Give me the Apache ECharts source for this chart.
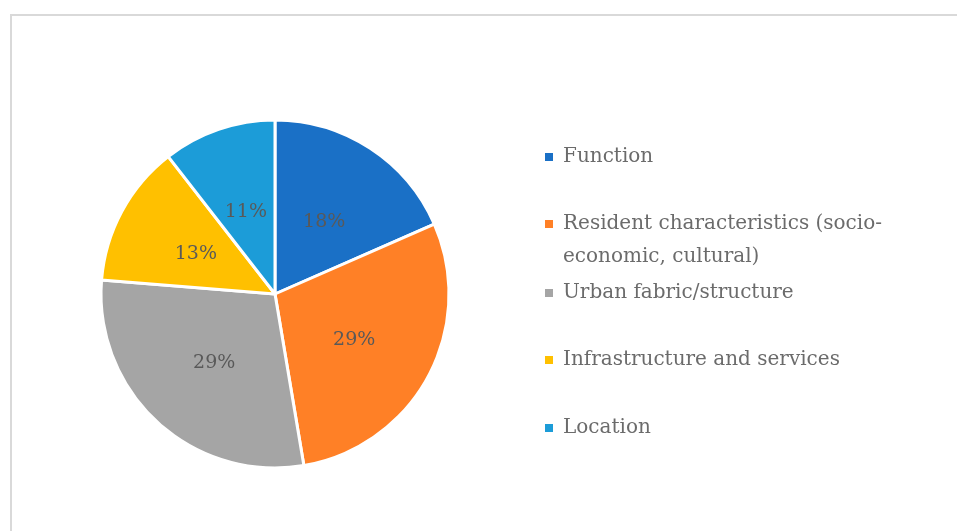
<!DOCTYPE html>
<html>
<head>
<meta charset="utf-8">
<script src="https://cdn.jsdelivr.net/npm/echarts@6/dist/echarts.min.js"></script>
<style>
  html, body { margin: 0; padding: 0; background: #fff; }
  #chart { width: 957px; height: 531px; }
</style>
</head>
<body>
<div id="chart"></div>
<script>
// 数据
var categories = [
  "Function",
  "Resident characteristics (socio-economic, cultural)",
  "Urban fabric/structure",
  "Infrastructure and services",
  "Location"
];
// shares in % (labels show them rounded)
var shares = [18.4, 28.9, 28.9, 13.2, 10.5];
var colors = ["#1a70c6", "#ff8026", "#a5a5a5", "#ffc000", "#1c9cd8"];

var FONT = "DejaVu Serif";
var chart = echarts.init(document.getElementById("chart"));

// 每个图例单独一个 legend，方便对齐
var legendTops = [157, 224, 293, 360, 428];
var legends = categories.map(function (name, i) {
  var twoLine = name.indexOf("socio-") > -1;
  return {
    data: [name],
    orient: "vertical",
    left: 543,
    top: legendTops[i] - (twoLine ? 49.5 : 16.5),
    padding: 0,
    icon: "rect",
    itemWidth: 10,
    itemHeight: 10,
    selectedMode: false,
    formatter: function (n) {
      // 第一行留空，让色块和第一行文字对齐
      return twoLine ? "\n" + n.replace("socio-", "socio-\n") : n;
    },
    textStyle: {
      fontFamily: FONT,
      fontSize: 20,
      color: "#6b6b6b",
      lineHeight: 33,
      padding: [0, 0, 0, 4]
    }
  };
});

var option = {
  backgroundColor: "#fff",
  animation: false,
  color: colors,
  legend: legends,
  graphic: [
    {
      type: "rect",
      shape: { x: 11, y: 15, width: 1000, height: 1000 },
      style: { fill: "none", stroke: "#d9d9d9", lineWidth: 2 },
      silent: true
    }
  ],
  series: [
    {
      type: "pie",
      center: [275, 294],
      radius: 174,
      startAngle: 90,
      clockwise: true,
      data: categories.map(function (n, i) {
        return { name: n, value: shares[i] };
      }),
      itemStyle: { borderColor: "#fff", borderWidth: 3 },
      label: {
        show: true,
        position: "inside",
        formatter: function (p) {
          return Math.round(p.value) + "%";
        },
        fontFamily: FONT,
        fontSize: 19,
        color: "#595959",
        offset: [0, 3]
      },
      labelLine: { show: false },
      emphasis: { disabled: true }
    }
  ]
};
chart.setOption(option);
</script>
</body>
</html>
